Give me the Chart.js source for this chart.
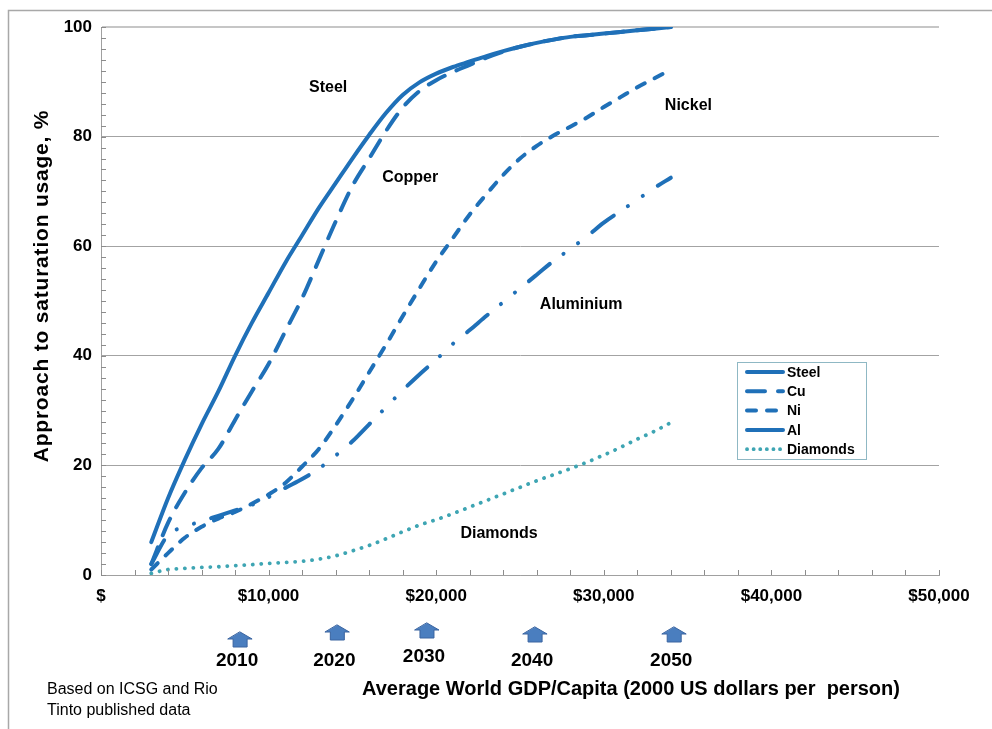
<!DOCTYPE html>
<html>
<head>
<meta charset="utf-8">
<title>Approach to saturation usage</title>
<script src="https://cdn.jsdelivr.net/npm/chart.js@4.4.1/dist/chart.umd.min.js"></script>
<style>
  html, body { margin: 0; padding: 0; background: #fff; }
  #chart { display: block; }
</style>
</head>
<body>
<canvas id="chart" width="992" height="729"></canvas>
<script>
// GDP per capita (2000 US$) along the x axis
const gdp = [3000, 4000, 5000, 6000, 7000, 8000, 9000, 10000, 11000, 12000, 13000, 14000, 15000, 16000, 17000, 18000,
             19000, 20000, 21000, 22000, 23000, 24000, 25000, 26000, 27000, 28000, 29000, 30000, 31000, 32000, 33000, 34000];

// approach to saturation usage, %
const steel = [6, 14, 21, 27.5, 33.5, 40, 46, 51.5, 57, 62, 67, 71.5, 76, 80.3, 84.3, 87.6,
               89.9, 91.5, 92.7, 93.7, 94.7, 95.6, 96.4, 97.1, 97.7, 98.2, 98.5, 98.8, 99.1, 99.4, 99.7, 100];
const copper = [2, 9.5, 15, 19.5, 23, 28.3, 33.5, 38.5, 44.5, 50.5, 57.5, 64.5, 71, 76, 81, 85.3,
                88.3, 90.3, 91.8, 93.1, 94.4, 95.5, 96.4, 97.1, 97.7, 98.2, 98.5, 98.8, 99.1, 99.4, 99.7, 100];
const nickel = [1, 4, 6.8, 8.8, 10.3, 11.5, 13, 14.7, 16.8, 19.8, 23, 27.3, 32, 37, 42, 47.2,
                52.3, 57.2, 61.5, 65.8, 69.5, 73, 76, 78.3, 80.2, 81.8, 83.5, 85.4, 87.2, 89, 90.6, 92.2];
const aluminium = [2, 7.3, 8.8, 9.8, 10.8, 11.8, 12.8, 14.2, 15.9, 17.5, 19.4, 21.8, 24.4, 27.5, 30.6, 33.7,
                   36.6, 39.3, 42.2, 44.7, 47.3, 49.8, 52.3, 54.8, 57.3, 59.5, 61.8, 64.3, 66.4, 68.5, 70.6, 72.5];
const diamonds = [0.3, 1, 1.2, 1.4, 1.5, 1.7, 1.9, 2.1, 2.3, 2.5, 2.9, 3.5, 4.4, 5.4, 6.6, 7.9,
                  9.1, 10.1, 11.2, 12.4, 13.6, 14.8, 16, 17.2, 18.3, 19.4, 20.6, 21.9, 23.3, 24.8, 26.2, 27.8];

// year markers under the axis: world GDP per capita reached in each year
const years = ['2010', '2020', '2030', '2040', '2050'];
const yearGdp = [8300, 14100, 19450, 25900, 34200];

// curve names written inside the plot, anchored in data units
const curveNames = ['Steel', 'Copper', 'Nickel', 'Aluminium', 'Diamonds'];
const curveNameGdp = [13550, 18450, 35050, 28650, 23750];
const curveNamePct = [89, 72.6, 85.6, 49.3, 7.6];

const BLUE = '#1f70b8';
const TEAL = '#3ea5b3';
const FONT = "'Liberation Sans', Arial, Helvetica, sans-serif";

function series(label, values, color, dash, width) {
  return {
    label: label,
    data: values.map((v, i) => ({ x: gdp[i], y: v })),
    borderColor: color,
    borderWidth: width,
    borderDash: dash,
    borderCapStyle: 'round',
    borderJoinStyle: 'round',
    pointRadius: 0,
    fill: false,
    cubicInterpolationMode: 'monotone'
  };
}

const datasets = [
  series('Diamonds', diamonds, TEAL, [0.1, 8.4], 3.8),
  series('Al', aluminium, BLUE, [27, 17, 0.1, 18, 0.1, 18], 4),
  series('Ni', nickel, BLUE, [9, 11], 4),
  series('Cu', copper, BLUE, [18, 13], 4),
  series('Steel', steel, BLUE, [], 4)
];

// legend order top to bottom
const legendOrder = ['Steel', 'Cu', 'Ni', 'Al', 'Diamonds'];

const decor = {
  id: 'decor',
  beforeDraw(chart) {
    const ctx = chart.ctx;
    ctx.save();
    // frame round the slide
    ctx.strokeStyle = '#a8a8a8';
    ctx.lineWidth = 1.5;
    ctx.beginPath();
    ctx.moveTo(8.5, 729);
    ctx.lineTo(8.5, 10.5);
    ctx.lineTo(992, 10.5);
    ctx.stroke();
    ctx.restore();
  },
  afterDraw(chart) {
    const ctx = chart.ctx;
    const xs = chart.scales.x;
    const ys = chart.scales.y;
    const area = chart.chartArea;
    ctx.save();

    // inward minor ticks
    ctx.strokeStyle = '#8c8c8c';
    ctx.lineWidth = 1;
    ctx.beginPath();
    for (let v = 0; v <= 100; v += 2) {
      const y = Math.round(ys.getPixelForValue(v)) + 0.5;
      ctx.moveTo(area.left, y);
      ctx.lineTo(area.left + 5, y);
    }
    for (let v = 0; v <= 50000; v += 2000) {
      const x = Math.round(xs.getPixelForValue(v)) + 0.5;
      ctx.moveTo(x, area.bottom);
      ctx.lineTo(x, area.bottom - 5);
    }
    ctx.stroke();

    // curve names
    ctx.fillStyle = '#000';
    ctx.font = 'bold 16px ' + FONT;
    ctx.textAlign = 'center';
    ctx.textBaseline = 'middle';
    curveNames.forEach((name, i) => {
      ctx.fillText(name, xs.getPixelForValue(curveNameGdp[i]), ys.getPixelForValue(curveNamePct[i]));
    });

    // legend
    const lx = 737.5, ly = 362.5, lw = 129, lh = 97;
    ctx.strokeStyle = '#8fb8c4';
    ctx.lineWidth = 1;
    ctx.strokeRect(lx, ly, lw, lh);
    ctx.font = 'bold 14px ' + FONT;
    ctx.textAlign = 'left';
    legendOrder.forEach((name, i) => {
      const ds = chart.data.datasets.find(d => d.label === name);
      const y = 372 + i * 19.3;
      ctx.strokeStyle = ds.borderColor;
      ctx.lineWidth = ds.borderWidth;
      ctx.lineCap = 'round';
      ctx.setLineDash(name === 'Al' ? [] : (name === 'Diamonds' ? [0.1, 6.5] : ds.borderDash));
      ctx.beginPath();
      ctx.moveTo(747, y);
      ctx.lineTo(783, y);
      ctx.stroke();
      ctx.setLineDash([]);
      ctx.fillStyle = '#000';
      ctx.fillText(name, 787, y + 1);
    });

    // year arrows
    const arrowTop = [632, 625, 623, 627, 627];
    const yearY = [661, 661, 657, 661, 661];
    years.forEach((yr, i) => {
      const cx = xs.getPixelForValue(yearGdp[i]);
      const t = arrowTop[i];
      ctx.beginPath();
      ctx.moveTo(cx, t);
      ctx.lineTo(cx + 12, t + 7);
      ctx.lineTo(cx + 7, t + 7);
      ctx.lineTo(cx + 7, t + 15);
      ctx.lineTo(cx - 7, t + 15);
      ctx.lineTo(cx - 7, t + 7);
      ctx.lineTo(cx - 12, t + 7);
      ctx.closePath();
      ctx.fillStyle = '#4a7ebf';
      ctx.fill();
      ctx.strokeStyle = '#3a64a0';
      ctx.lineWidth = 1;
      ctx.stroke();
      ctx.fillStyle = '#000';
      ctx.font = 'bold 19px ' + FONT;
      ctx.textAlign = 'center';
      ctx.fillText(yr, cx - 3, yearY[i]);
    });

    // axis titles
    ctx.font = 'bold 20px ' + FONT;
    ctx.fillText('Average World GDP/Capita (2000 US dollars per  person)', 631, 689);
    ctx.save();
    ctx.translate(42, 286);
    ctx.rotate(-Math.PI / 2);
    ctx.font = 'bold 21px ' + FONT;
    ctx.letterSpacing = '0.8px';
    ctx.fillText('Approach to saturation usage, %', 0, 0);
    ctx.restore();

    // source note
    ctx.font = '16px ' + FONT;
    ctx.textAlign = 'left';
    ctx.fillText('Based on ICSG and Rio', 47, 690);
    ctx.fillText('Tinto published data', 47, 711);

    ctx.restore();
  }
};

new Chart(document.getElementById('chart'), {
  type: 'line',
  data: { datasets },
  options: {
    responsive: false,
    animation: false,
    layout: { padding: { top: 27, right: 53, bottom: 0, left: 0 } },
    plugins: {
      legend: { display: false },
      tooltip: { enabled: false }
    },
    scales: {
      x: {
        type: 'linear',
        min: 0,
        max: 50000,
        afterFit(scale) { scale.height = 154; },
        grid: { display: false, drawTicks: false },
        border: { display: true, color: '#a0a0a0', width: 1 },
        ticks: {
          stepSize: 10000,
          autoSkip: false,
          maxRotation: 0,
          padding: 11,
          color: '#000',
          font: { family: FONT, size: 17, weight: 'bold' },
          callback: v => v === 0 ? '$' : '$' + v.toLocaleString('en-US')
        }
      },
      y: {
        min: 0,
        max: 100,
        afterFit(scale) { scale.width = 101; },
        grid: {
          drawTicks: false,
          color: c => c.tick && c.tick.value === 100 ? '#c6c6c6' : '#a3a3a3',
          lineWidth: c => c.tick && c.tick.value === 100 ? 2 : 1
        },
        border: { display: true, color: '#a0a0a0', width: 1 },
        ticks: {
          stepSize: 20,
          padding: 9,
          color: '#000',
          font: { family: FONT, size: 17, weight: 'bold' }
        }
      }
    }
  },
  plugins: [decor]
});
</script>
</body>
</html>
